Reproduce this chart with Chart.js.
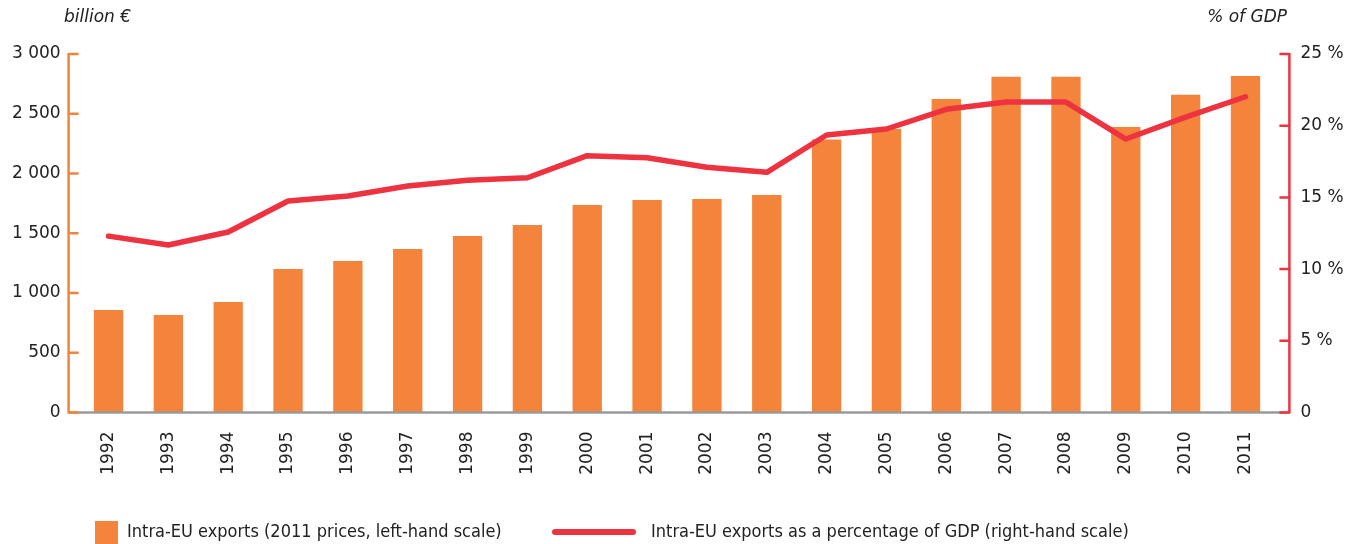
<!DOCTYPE html>
<html>
<head>
<meta charset="utf-8">
<script src="https://cdn.jsdelivr.net/npm/chart.js@4/dist/chart.umd.min.js"></script>
<style>
  body { margin: 0; background: #fff; }
  #wrap { position: relative; width: 1357px; height: 544px; }
  .leg { position: absolute; font: 18px "DejaVu Sans Condensed", "DejaVu Sans", sans-serif; color: #222; white-space: nowrap; }
  .box { position: absolute; background: #f4843c; }
</style>
</head>
<body>
<div id="wrap">
  <canvas id="tradeChart"></canvas>
  <div class="box" style="left:95px;top:521px;width:23px;height:23px;"></div>
  <div class="leg" style="left:127px;top:520px;">Intra-EU exports (2011 prices, left-hand scale)</div>
  <div class="box" style="left:552px;top:529px;width:84px;height:6px;border-radius:3px;background:#ee3340;"></div>
  <div class="leg" style="left:651px;top:520px;">Intra-EU exports as a percentage of GDP (right-hand scale)</div>
</div>
<script>
const ORANGE = '#f4843c';
const RED = '#ee3340';

// years on the x axis
const years = ['1992', '1993', '1994', '1995', '1996', '1997', '1998', '1999', '2000', '2001',
               '2002', '2003', '2004', '2005', '2006', '2007', '2008', '2009', '2010', '2011'];

// intra-EU exports, billion euro at 2011 prices (left scale)
const exportsBn = [857, 816, 925, 1200, 1268, 1368, 1477, 1569, 1736, 1778,
                   1786, 1820, 2285, 2372, 2623, 2809, 2809, 2389, 2659, 2816];

// intra-EU exports as % of GDP (right scale)
const exportsPctGdp = [12.3, 11.68, 12.59, 14.75, 15.1, 15.8, 16.2, 16.37, 17.91, 17.77,
                       17.1, 16.75, 19.35, 19.77, 21.14, 21.65, 21.65, 19.07, 20.6, 22.02];

// tick values for both axes
const leftTicks = [0, 500, 1000, 1500, 2000, 2500, 3000];
const rightTicks = [0, 5, 10, 15, 20, 25];

// drawing the axis lines, tick marks and axis titles
const axisDecor = {
    id: 'axisDecor',
    afterDatasetsDraw(chart) {
        const { ctx, chartArea, scales } = chart;
        const xl = chartArea.left - 10;
        const xr = chartArea.right + 14;
        const base = scales.y.getPixelForValue(0);

        ctx.save();
        ctx.lineWidth = 2.5;

        // grey baseline
        ctx.strokeStyle = '#9a9a9a';
        ctx.beginPath();
        ctx.moveTo(xl, base);
        ctx.lineTo(xr, base);
        ctx.stroke();

        // left axis
        ctx.strokeStyle = ORANGE;
        ctx.beginPath();
        ctx.moveTo(xl, scales.y.getPixelForValue(3000) - 1);
        ctx.lineTo(xl, base + 1);
        leftTicks.forEach(v => {
            const y = scales.y.getPixelForValue(v);
            ctx.moveTo(xl, y);
            ctx.lineTo(xl + 10, y);
        });
        ctx.stroke();

        // right axis
        ctx.strokeStyle = RED;
        ctx.beginPath();
        ctx.moveTo(xr, scales.y1.getPixelForValue(25) - 1);
        ctx.lineTo(xr, base + 1);
        rightTicks.forEach(v => {
            const y = scales.y1.getPixelForValue(v);
            ctx.moveTo(xr, y);
            ctx.lineTo(xr - 10, y);
        });
        ctx.stroke();

        // axis titles
        ctx.fillStyle = '#222';
        ctx.font = 'oblique 17px "DejaVu Sans"';
        ctx.textBaseline = 'middle';
        ctx.textAlign = 'left';
        ctx.fillText('billion €', 64, 18);
        ctx.textAlign = 'right';
        ctx.fillText('% of GDP', 1287, 18);
        ctx.restore();
    }
};

function formatThousands(v) {
    return String(v).replace(/\B(?=(\d{3})+(?!\d))/g, ' ');
}

const tickFont = { family: 'DejaVu Sans', size: 17 };

const ctx = document.getElementById('tradeChart').getContext('2d');
const tradeChart = new Chart(ctx, {
    type: 'bar',
    data: {
        labels: years,
        datasets: [
            {
                type: 'line',
                label: 'Intra-EU exports as a percentage of GDP (right-hand scale)',
                data: exportsPctGdp,
                yAxisID: 'y1',
                borderColor: RED,
                borderWidth: 5.5,
                borderCapStyle: 'round',
                borderJoinStyle: 'round',
                pointRadius: 0,
                tension: 0,
                fill: false,
                order: 0
            },
            {
                label: 'Intra-EU exports (2011 prices, left-hand scale)',
                data: exportsBn,
                yAxisID: 'y',
                backgroundColor: ORANGE,
                categoryPercentage: 1,
                barPercentage: 0.49,
                order: 1
            }
        ]
    },
    options: {
        responsive: true,
        maintainAspectRatio: false,
        animation: false,
        layout: { padding: { top: 54, left: 0, right: 0, bottom: 0 } },
        plugins: {
            legend: { display: false },
            tooltip: { enabled: false }
        },
        scales: {
            x: {
                grid: { display: false },
                border: { display: false },
                ticks: { font: tickFont, color: '#222', minRotation: 90, maxRotation: 90, padding: 11 },
                afterFit: scale => { scale.height = 131.5; }
            },
            y: {
                position: 'left',
                min: 0,
                max: 3000,
                grid: { display: false, drawTicks: false },
                border: { display: false },
                ticks: { stepSize: 500, font: tickFont, color: '#222', padding: 18, callback: v => formatThousands(v) },
                afterFit: scale => { scale.width = 78.6; }
            },
            y1: {
                position: 'right',
                min: 0,
                max: 25,
                grid: { display: false, drawTicks: false },
                border: { display: false },
                ticks: { stepSize: 5, font: tickFont, color: '#222', padding: 25, callback: v => v === 0 ? '0' : v + ' %' },
                afterFit: scale => { scale.width = 81.6; }
            }
        }
    },
    plugins: [axisDecor]
});
</script>
</body>
</html>
